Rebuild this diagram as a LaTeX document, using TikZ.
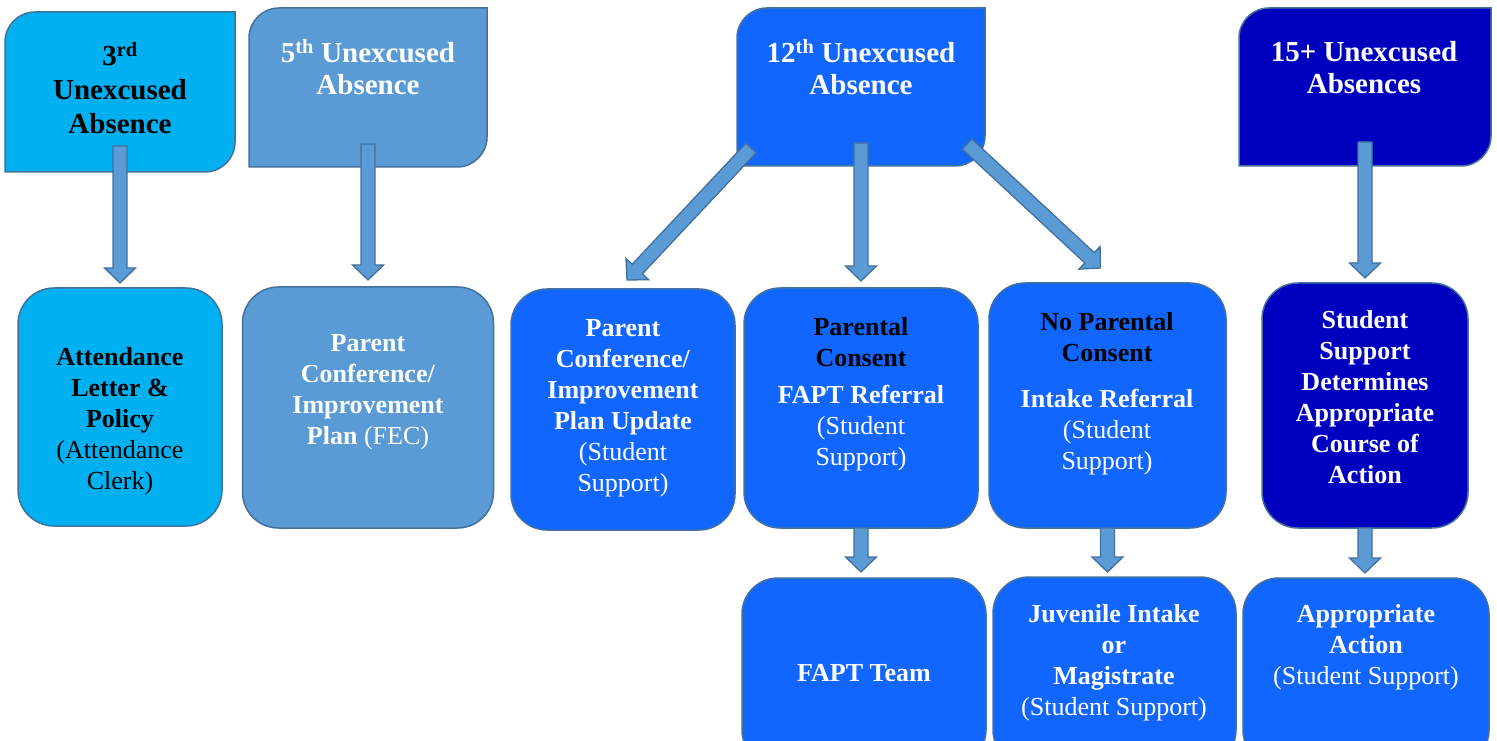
\documentclass[tikz,border=0pt]{standalone}
\usepackage{fontspec}
\setmainfont{Liberation Serif}
\usetikzlibrary{calc}
\definecolor{boxcyan}{HTML}{00B0F0}
\definecolor{boxsteel}{HTML}{5B9BD5}
\definecolor{boxblue}{HTML}{1166FF}
\definecolor{boxnavy}{HTML}{0000BF}
\definecolor{boxedge}{HTML}{41719C}
\tikzset{
  box/.style={draw=boxedge, line width=1.5pt, rounded corners=36pt, inner sep=0pt, outer sep=0pt},
  topbox/.style={inner sep=0pt, outer sep=0pt},
  toptext/.style={align=center, text=white, font=\fontsize{29}{32}\selectfont\bfseries},
  lowtext/.style={align=center, text=white, font=\fontsize{26}{31}\selectfont},
  blockarrow/.style={fill=boxsteel, draw=boxedge, line width=1.3pt}
}
% top box: round top left and bottom right corners
\newcommand{\diagbox}[2]{%
  \filldraw[draw=boxedge, line width=1.5pt, fill=#2] (#1.north east) -- ([yshift=30pt]#1.south east)
    arc[start angle=0, end angle=-90, radius=30pt] -- (#1.south west)
    -- ([yshift=-30pt]#1.north west) arc[start angle=180, end angle=90, radius=30pt] -- cycle;}
% wide arrow from #1 to #2
\newcommand{\blockarr}[2]{%
  \coordinate (ba-s) at (#1);
  \coordinate (ba-t) at (#2);
  \coordinate (ba-h) at ($(ba-t)!15pt!(ba-s)$);
  \filldraw[blockarrow] ($(ba-s)!7pt!90:(ba-t)$) -- ($(ba-h)!7pt!-90:(ba-s)$)
    -- ($(ba-h)!15.5pt!-90:(ba-s)$) -- (ba-t) -- ($(ba-h)!15.5pt!90:(ba-s)$)
    -- ($(ba-h)!7pt!90:(ba-s)$) -- ($(ba-s)!7pt!-90:(ba-t)$) -- cycle;}

\begin{document}
\begin{tikzpicture}[x=1pt, y=1pt]
    \useasboundingbox (0,0) rectangle (1497,740);
    % top row
    \node[topbox, minimum width=230pt, minimum height=160pt] (third) at (120,648) {};
    \node[topbox, minimum width=238pt, minimum height=159pt] (fifth) at (368,652.5) {};
    \node[topbox, minimum width=248pt, minimum height=158pt] (twelfth) at (861,653) {};
    \node[topbox, minimum width=252pt, minimum height=158pt] (fifteen) at (1365,653) {};
    \diagbox{third}{boxcyan}
    \diagbox{fifth}{boxsteel}
    \diagbox{twelfth}{boxblue}
    \diagbox{fifteen}{boxnavy}
    % middle row
    \node[box, fill=boxcyan, minimum width=204pt, minimum height=238pt] (letter) at (120,333) {};
    \node[box, fill=boxsteel, minimum width=251pt, minimum height=241pt] (plan) at (368,332.5) {};
    \node[box, fill=boxblue, minimum width=224pt, minimum height=241pt] (update) at (623,330.5) {};
    \node[box, fill=boxblue, minimum width=234pt, minimum height=240pt] (fapt) at (861,332) {};
    \node[box, fill=boxblue, minimum width=237pt, minimum height=245pt] (intake) at (1107.5,334.5) {};
    \node[box, fill=boxnavy, minimum width=206pt, minimum height=245pt] (action) at (1365,334.5) {};
    % bottom row
    \node[box, fill=boxblue, minimum width=244pt, minimum height=188pt] (team) at (864,68) {};
    \node[box, fill=boxblue, minimum width=243pt, minimum height=189pt] (juvenile) at (1114.5,68.5) {};
    \node[box, fill=boxblue, minimum width=246pt, minimum height=188pt] (appropriate) at (1366,68) {};
    % texts
    \node[toptext, text=black, font=\fontsize{29}{34}\selectfont\bfseries] (third-t) at (120,651.5) {3\textsuperscript{rd}\\Unexcused\\Absence};
    \node[toptext] (fifth-t) at (368,672.5) {5\textsuperscript{th} Unexcused\\Absence};
    \node[toptext] (twelfth-t) at (861,672.5) {12\textsuperscript{th} Unexcused\\Absence};
    \node[toptext] (fifteen-t) at (1364,672.5) {15+ Unexcused\\Absences};
    \node[lowtext, text=black] (letter-t) at (120,318.5) {\textbf{Attendance}\\\textbf{Letter \&}\\\textbf{Policy}\\(Attendance\\Clerk)};
    \node[lowtext] (plan-t) at (368,347.5) {\textbf{Parent}\\\textbf{Conference/}\\\textbf{Improvement}\\\textbf{Plan} (FEC)};
    \node[lowtext] (update-t) at (623,332) {\textbf{Parent}\\\textbf{Conference/}\\\textbf{Improvement}\\\textbf{Plan Update}\\(Student\\Support)};
    \node[lowtext] (fapt-t) at (861,345.5) {\textcolor{black}{\textbf{Parental}}\\\textcolor{black}{\textbf{Consent}}\\[6pt]\textbf{FAPT Referral}\\(Student\\Support)};
    \node[lowtext] (intake-t) at (1107,346) {\textcolor{black}{\textbf{No Parental}}\\\textcolor{black}{\textbf{Consent}}\\[15pt]\textbf{Intake Referral}\\(Student\\Support)};
    \node[lowtext] (action-t) at (1365,342.5) {\textbf{Student}\\\textbf{Support}\\\textbf{Determines}\\\textbf{Appropriate}\\\textbf{Course of}\\\textbf{Action}};
    \node[lowtext] (team-t) at (864,67) {\textbf{FAPT Team}};
    \node[lowtext] (juvenile-t) at (1114,77) {\textbf{Juvenile Intake}\\\textbf{or}\\\textbf{Magistrate}\\(Student Support)};
    \node[lowtext] (appropriate-t) at (1366,93) {\textbf{Appropriate}\\\textbf{Action}\\(Student Support)};
    % arrows
    \blockarr{[yshift=26pt]third.south}{[yshift=5pt]letter.north}
    \blockarr{[yshift=23pt]fifth.south}{[yshift=7pt]plan.north}
    \blockarr{[shift={(14pt,18pt)}]twelfth.south west}{[shift={(4pt,9pt)}]update.north}
    \blockarr{[yshift=23pt]twelfth.south}{[yshift=7pt]fapt.north}
    \blockarr{[shift={(-18pt,22pt)}]twelfth.south east}{[shift={(-7pt,15pt)}]intake.north}
    \blockarr{[yshift=24pt]fifteen.south}{[yshift=5pt]action.north}
    \blockarr{fapt.south}{$(team.north -| fapt.south)+(0,6)$}
    \blockarr{intake.south}{$(juvenile.north -| intake.south)+(0,5)$}
    \blockarr{action.south}{$(appropriate.north -| action.south)+(0,5)$}
\end{tikzpicture}
\end{document}
